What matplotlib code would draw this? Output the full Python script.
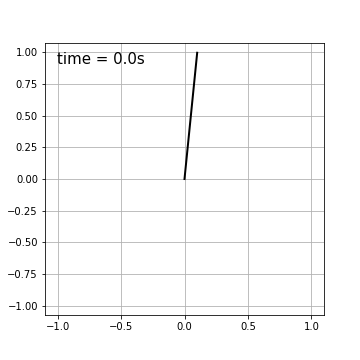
import matplotlib
matplotlib.use("Agg")
import matplotlib.pyplot as plt

# pendulum rod: pivot to bob
rod_x = [0.0, 0.1]
rod_y = [0.0, 0.995]
time_label = "time = 0.0s"
xticks = [-1.0, -0.5, 0.0, 0.5, 1.0]
yticks = [-1.00, -0.75, -0.50, -0.25, 0.00, 0.25, 0.50, 0.75, 1.00]

fig = plt.figure(figsize=(5, 5), dpi=72)
ax = fig.add_axes([45/360, 45/360, 279/360, 272/360])
ax.plot(rod_x, rod_y, '-', color='black', lw=2)
ax.set_xlim(-1.1, 1.1)
ax.set_ylim(-1.072, 1.072)
ax.set_xticks(xticks)
ax.set_yticks(yticks)
ax.grid(True)
ax.text(0.043, 0.922, time_label, transform=ax.transAxes, fontsize=15)
fig.savefig("out.png", dpi=72)
